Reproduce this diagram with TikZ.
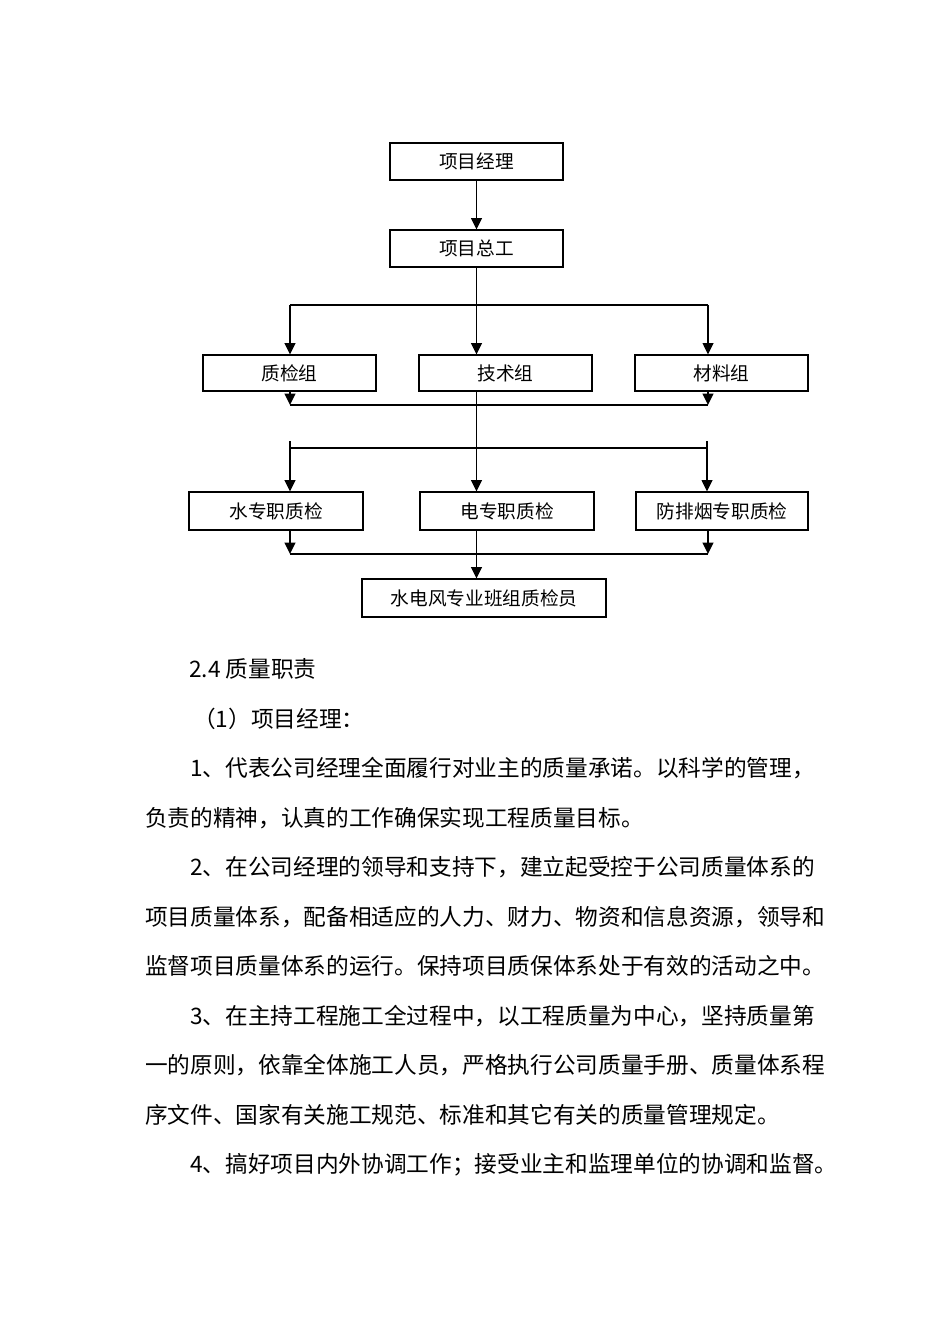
\documentclass[tikz,border=0pt]{standalone}
\usepackage{fontspec}
\newfontfamily\cjk{Noto Sans CJK SC}
\usetikzlibrary{arrows.meta}
\begin{document}
\begin{tikzpicture}[x=0.75pt,y=-0.75pt,
  box/.style={draw,line width=0.9pt,inner sep=0pt,font=\cjk\fontsize{14}{14}\selectfont},
  conn/.style={line width=1.4pt},
  hl/.style={line width=1pt},
  arr/.style={conn,-{Triangle[width=8pt,length=8.5pt]}},
  body/.style={anchor=base west,inner sep=0pt,font=\cjk\fontsize{17}{17}\selectfont}]
\fill[white] (0,0) rectangle (950,1344);
\useasboundingbox (0,0) rectangle (950,1344);
% boxes
\node[box,minimum width=129.75pt,minimum height=27.75pt] (pm) at (476.5,161.5) {项目经理};
\node[box,minimum width=129.75pt,minimum height=27.75pt] (zg) at (476.5,248.5) {项目总工};
\node[box,minimum width=129.75pt,minimum height=27pt] (zj) at (289.5,373) {质检组};
\node[box,minimum width=129.75pt,minimum height=27pt] (js) at (505.5,373) {技术组};
\node[box,minimum width=129.75pt,minimum height=27pt] (cl) at (721.5,373) {材料组};
\node[box,minimum width=130.5pt,minimum height=28.5pt] (wa) at (276,511) {水专职质检};
\node[box,minimum width=130.5pt,minimum height=28.5pt] (el) at (507,511) {电专职质检};
\node[box,minimum width=129pt,minimum height=28.5pt] (fa) at (722,511) {防排烟专职质检};
\node[box,minimum width=183pt,minimum height=28.5pt] (bt) at (484,598) {水电风专业班组质检员};
% connectors
\draw[arr] (pm) -- (zg);
\draw[arr] (zg.south) -- (zg.south |- js.north);
\coordinate (a1) at (290,305);
\coordinate (a2) at (708,305);
\draw[hl] (a1) -- (a2);
\draw[arr] (a1) -- (a1 |- zj.north);
\draw[arr] (a2) -- (a2 |- cl.north);
\coordinate (b1) at (290,405);
\coordinate (b2) at (708,405);
\draw[arr] (b1 |- zj.south) -- (b1);
\draw[arr] (b2 |- cl.south) -- (b2);
\draw[hl] (b1) -- (b2);
\draw[arr] (zg.south |- js.south) -- (zg.south |- el.north);
\coordinate (c1) at (289,448);
\coordinate (c2) at (707,448);
\draw[hl] (c1) -- (c2);
\coordinate (c1t) at (290,441);
\coordinate (c2t) at (707,441);
\draw[arr] (c1t) -- (c1t |- wa.north);
\draw[arr] (c2t) -- (c2t |- fa.north);
\coordinate (d1) at (290,554);
\coordinate (d2) at (708,554);
\draw[arr] (d1 |- wa.south) -- (d1);
\draw[arr] (d2 |- fa.south) -- (d2);
\draw[hl] (d1) -- (d2);
\draw[arr] (zg.south |- el.south) -- (zg.south |- bt.north);
% body text
\node[body] (t1) at (189,677.5) {2.4 质量职责};
\node[body] (t2) at (193,727) {（1）项目经理：};
\node[body] (t3) at (190,776.5) {1、代表公司经理全面履行对业主的质量承诺。以科学的管理，};
\node[body] (t4) at (145,826) {负责的精神，认真的工作确保实现工程质量目标。};
\node[body] (t5) at (190,875.5) {2、在公司经理的领导和支持下，建立起受控于公司质量体系的};
\node[body] (t6) at (145,925) {项目质量体系，配备相适应的人力、财力、物资和信息资源，领导和};
\node[body] (t7) at (145,974.5) {监督项目质量体系的运行。保持项目质保体系处于有效的活动之中。};
\node[body] (t8) at (190,1024) {3、在主持工程施工全过程中，以工程质量为中心，坚持质量第};
\node[body] (t9) at (145,1073.5) {一的原则，依靠全体施工人员，严格执行公司质量手册、质量体系程};
\node[body] (t10) at (145,1123) {序文件、国家有关施工规范、标准和其它有关的质量管理规定。};
\node[body] (t11) at (190,1172.5) {4、搞好项目内外协调工作；接受业主和监理单位的协调和监督。};
\end{tikzpicture}
\end{document}
